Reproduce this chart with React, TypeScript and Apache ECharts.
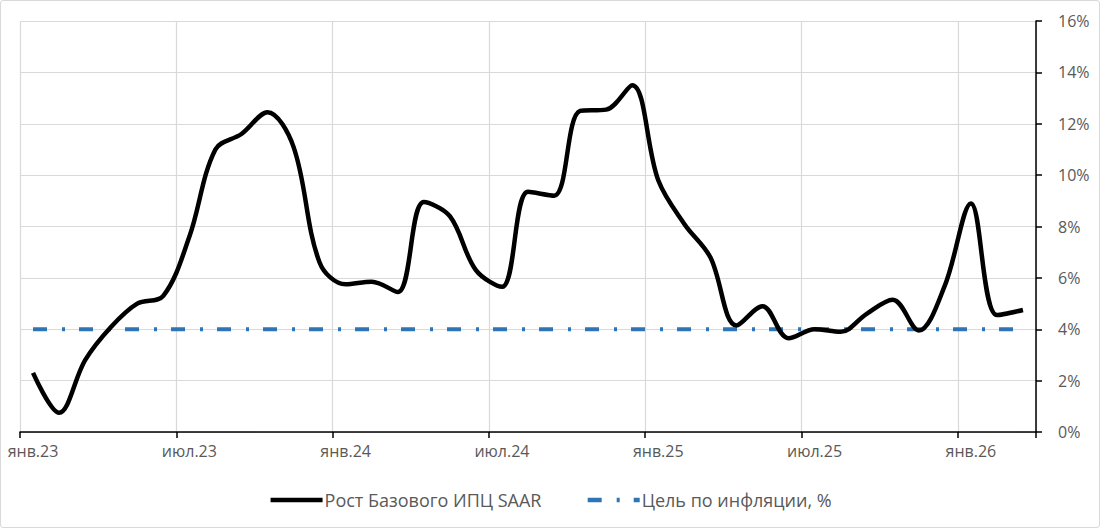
import React, { useEffect, useRef } from "react";
import * as echarts from "echarts";

const MONTHS = ["янв", "фев", "мар", "апр", "май", "июн", "июл", "авг", "сен", "окт", "ноя", "дек"];
const YEARS = ["23", "24", "25", "26"];
const N_POINTS = 39;

const coreCpi = [
  2.3, 0.75, 2.8, 4.1, 5.0, 5.3, 7.6, 11.0, 11.6, 12.45, 11.1, 6.6,
  5.75, 5.85, 5.45, 8.95, 8.4, 6.3, 5.65, 9.35, 9.2, 12.5, 12.55, 13.5,
  9.8, 8.1, 6.8, 4.15, 4.9, 3.65, 4.0, 3.9, 4.6, 5.15, 3.95, 5.7,
  8.9, 4.55, 4.75,
];

const targetValue = 4;

const SERIES_NAMES = ["Рост Базового ИПЦ SAAR", "Цель по инфляции, %"];

const categories: string[] = [];
for (const y of YEARS) {
  for (const m of MONTHS) {
    if (categories.length < N_POINTS) categories.push(`${m}.${y}`);
  }
}
const target = categories.map(() => targetValue);

const FONT = "'Open Sans', sans-serif";
const TEXT_COLOR = "#595959";

export default function App() {
  const ref = useRef<HTMLDivElement>(null);

  useEffect(() => {
    if (!ref.current) return;
    const chart = echarts.init(ref.current, undefined, { renderer: "svg" });
    chart.setOption({
      animation: false,
      backgroundColor: "#ffffff",
      grid: { left: 20, right: 64, top: 21, bottom: 96, containLabel: false },
      legend: {
        top: 486,
        left: "center",
        itemWidth: 52,
        itemHeight: 14,
        itemGap: 44,
        itemStyle: { opacity: 0 },
        lineStyle: { width: 4.5 },
        textStyle: { color: TEXT_COLOR, fontSize: 18, fontFamily: FONT, padding: [0, 0, 0, -3] },
        data: SERIES_NAMES,
      },
      xAxis: {
        type: "category",
        data: categories,
        boundaryGap: true,
        axisLine: { show: true, lineStyle: { color: "#000000", width: 1.5 } },
        axisTick: { show: true, interval: 5, length: 6, lineStyle: { color: "#000000", width: 1.5 } },
        axisLabel: {
          interval: 5,
          margin: 11,
          color: TEXT_COLOR,
          fontSize: 16,
          fontFamily: FONT,
        },
        splitLine: { show: true, interval: 5, lineStyle: { color: "#d9d9d9", width: 1.2 } },
      },
      yAxis: {
        type: "value",
        position: "right",
        min: 0,
        max: 16,
        interval: 2,
        axisLine: { show: true, lineStyle: { color: "#000000", width: 1.5 } },
        axisTick: { show: true, length: 6, lineStyle: { color: "#000000", width: 1.5 } },
        axisLabel: {
          margin: 22,
          color: TEXT_COLOR,
          fontSize: 16,
          fontFamily: FONT,
          formatter: (v: number) => `${v}%`,
        },
        splitLine: { show: true, lineStyle: { color: "#d9d9d9", width: 1.2 } },
      },
      series: [
        {
          name: SERIES_NAMES[0],
          type: "line",
          data: coreCpi,
          smooth: 0.35,
          symbol: "none",
          lineStyle: { color: "#000000", width: 4.5 },
          itemStyle: { color: "#000000" },
          z: 3,
        },
        {
          name: SERIES_NAMES[1],
          type: "line",
          data: target,
          symbol: "none",
          lineStyle: { color: "#2E75B6", width: 4, type: [14, 15, 3, 14], cap: "butt" },
          itemStyle: { color: "#2E75B6" },
          z: 2,
        },
      ],
    });
    return () => chart.dispose();
  }, []);

  return (
    <div style={{ position: "absolute", left: 0, top: 0, width: 1100, height: 528 }}>
      <div ref={ref} style={{ width: 1100, height: 528 }} />
      <div
        style={{
          position: "absolute",
          left: 0,
          top: 0,
          width: 1100,
          height: 528,
          boxSizing: "border-box",
          border: "1.5px solid #d9d9d9",
          borderRadius: 3,
          pointerEvents: "none",
        }}
      />
    </div>
  );
}
